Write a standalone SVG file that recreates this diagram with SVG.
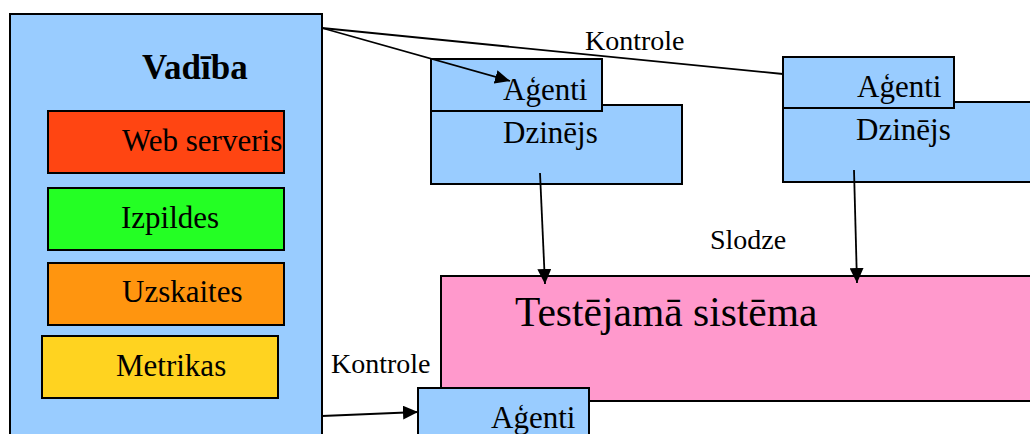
<svg xmlns="http://www.w3.org/2000/svg" width="1030" height="434" viewBox="0 0 1030 434">
  <style>
    .box { stroke: #000; stroke-width: 2; }
    .blue { fill: #99CCFF; }
    .t { font-family: "Liberation Serif", "Times New Roman", serif; fill: #000; }
    .lbl { font-size: 31px; }
    .small { font-size: 28px; }
    .line { stroke: #000; stroke-width: 1.8; fill: none; }
  </style>
  <defs>
    <marker id="arrow" markerUnits="userSpaceOnUse" markerWidth="16" markerHeight="14" refX="15" refY="7" orient="auto">
      <path d="M0,0 L15,7 L0,14 z" fill="#000"/>
    </marker>
  </defs>

  <rect width="1030" height="434" fill="#fff"/>

  <!-- management block with its modules -->
  <g id="vadiba">
    <rect class="box blue" x="10" y="14" width="312" height="440"/>
    <text class="t" x="142" y="79" font-size="35" font-weight="bold">Vadība</text>
  </g>
  <g id="web-serveris">
    <rect class="box" x="48" y="111" width="236" height="62" fill="#FF4512"/>
    <text class="t lbl" x="122" y="151">Web serveris</text>
  </g>
  <g id="izpildes">
    <rect class="box" x="48" y="188" width="236" height="62" fill="#24FF24"/>
    <text class="t lbl" x="121" y="228">Izpildes</text>
  </g>
  <g id="uzskaites">
    <rect class="box" x="48" y="263" width="236" height="62" fill="#FF950F"/>
    <text class="t lbl" x="122" y="302">Uzskaites</text>
  </g>
  <g id="metrikas">
    <rect class="box" x="42" y="336" width="236" height="62" fill="#FFD320"/>
    <text class="t lbl" x="116" y="376">Metrikas</text>
  </g>

  <!-- system under test -->
  <g id="sistema">
    <rect class="box" x="441" y="276" width="620" height="125" fill="#FF99CC"/>
    <text class="t" x="515" y="326" font-size="41.5">Testējamā sistēma</text>
  </g>

  <!-- load engine 1 with its agents -->
  <g id="dzinejs-1">
    <rect class="box blue" x="431" y="105" width="251" height="79"/>
    <text class="t lbl" x="503" y="143">Dzinējs</text>
  </g>
  <g id="agenti-1">
    <rect class="box blue" x="431" y="59" width="171" height="52"/>
    <text class="t lbl" x="503" y="100">Aģenti</text>
  </g>

  <!-- load engine 2 with its agents -->
  <g id="dzinejs-2">
    <rect class="box blue" x="783" y="102" width="270" height="80"/>
    <text class="t lbl" x="856" y="140">Dzinējs</text>
  </g>
  <g id="agenti-2">
    <rect class="box blue" x="783" y="57" width="171" height="51"/>
    <text class="t lbl" x="857" y="97">Aģenti</text>
  </g>

  <!-- agents on the system under test -->
  <g id="agenti-3">
    <rect class="box blue" x="418" y="388" width="171" height="60"/>
    <text class="t lbl" x="491" y="428">Aģenti</text>
  </g>

  <!-- connectors -->
  <g id="connectors">
    <line class="line" x1="322" y1="28" x2="510" y2="81" marker-end="url(#arrow)"/>
    <line class="line" x1="322" y1="28" x2="783" y2="74"/>
    <line class="line" x1="540" y1="173" x2="545" y2="284" marker-end="url(#arrow)"/>
    <line class="line" x1="854" y1="170" x2="857" y2="283" marker-end="url(#arrow)"/>
    <line class="line" x1="322" y1="416" x2="418" y2="412" marker-end="url(#arrow)"/>
  </g>

  <!-- connector labels -->
  <g id="labels">
    <text class="t small" x="585" y="50">Kontrole</text>
    <text class="t small" x="710" y="249">Slodze</text>
    <text class="t small" x="331" y="373">Kontrole</text>
  </g>
</svg>
